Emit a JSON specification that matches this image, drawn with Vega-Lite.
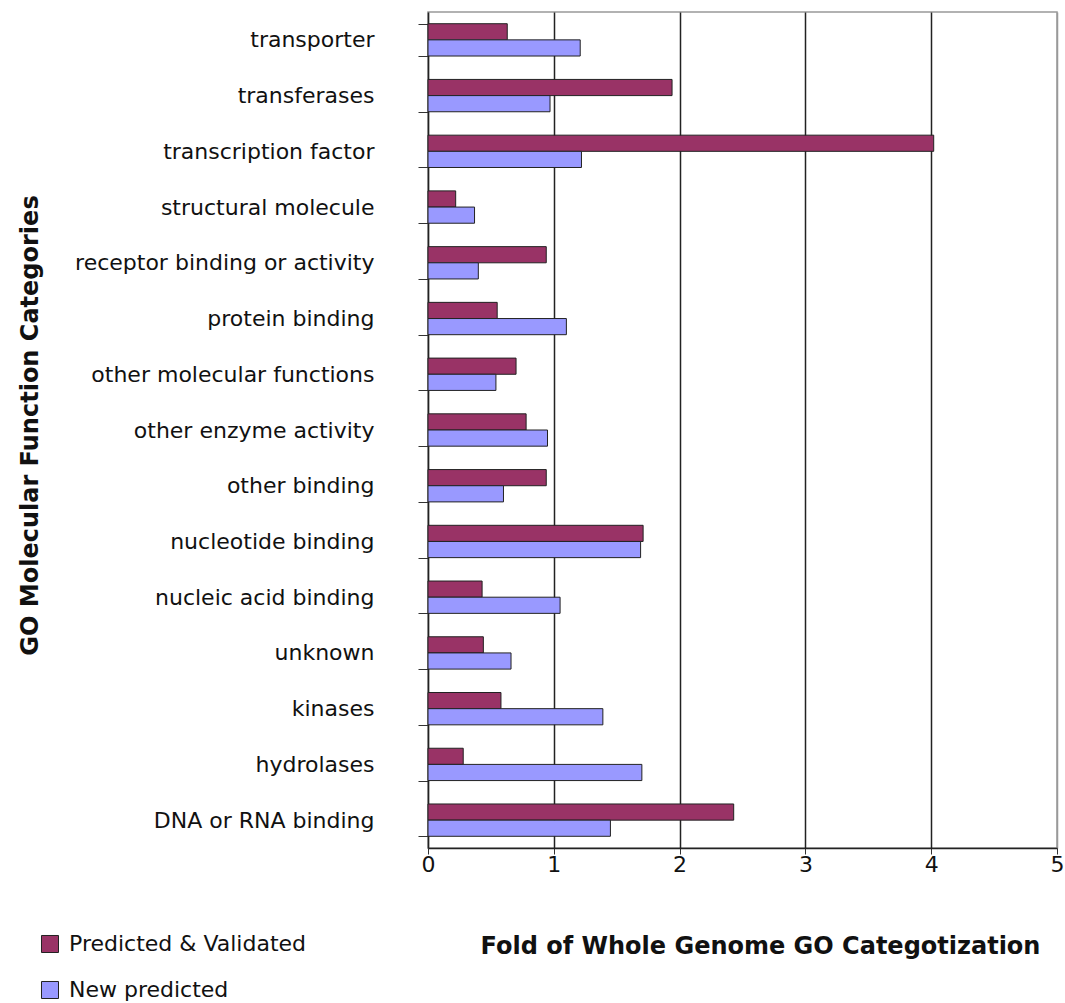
{
  "$schema": "https://vega.github.io/schema/vega-lite/v6.json",
  "autosize": "none",
  "width": 629,
  "height": 836,
  "padding": {"left": 428, "top": 12, "right": 8, "bottom": 155},
  "background": "white",
  "config": {
    "font": "DejaVu Sans",
    "view": {"stroke": "#999", "strokeWidth": 1.5}
  },
  "data": {
    "values": [
      {"category": "transporter", "series": "Predicted & Validated", "value": 0.63},
      {"category": "transporter", "series": "New predicted", "value": 1.21},
      {"category": "transferases", "series": "Predicted & Validated", "value": 1.94},
      {"category": "transferases", "series": "New predicted", "value": 0.97},
      {"category": "transcription factor", "series": "Predicted & Validated", "value": 4.02},
      {"category": "transcription factor", "series": "New predicted", "value": 1.22},
      {"category": "structural molecule", "series": "Predicted & Validated", "value": 0.22},
      {"category": "structural molecule", "series": "New predicted", "value": 0.37},
      {"category": "receptor binding or activity", "series": "Predicted & Validated", "value": 0.94},
      {"category": "receptor binding or activity", "series": "New predicted", "value": 0.40},
      {"category": "protein binding", "series": "Predicted & Validated", "value": 0.55},
      {"category": "protein binding", "series": "New predicted", "value": 1.10},
      {"category": "other molecular functions", "series": "Predicted & Validated", "value": 0.70},
      {"category": "other molecular functions", "series": "New predicted", "value": 0.54},
      {"category": "other enzyme activity", "series": "Predicted & Validated", "value": 0.78},
      {"category": "other enzyme activity", "series": "New predicted", "value": 0.95},
      {"category": "other binding", "series": "Predicted & Validated", "value": 0.94},
      {"category": "other binding", "series": "New predicted", "value": 0.60},
      {"category": "nucleotide binding", "series": "Predicted & Validated", "value": 1.71},
      {"category": "nucleotide binding", "series": "New predicted", "value": 1.69},
      {"category": "nucleic acid binding", "series": "Predicted & Validated", "value": 0.43},
      {"category": "nucleic acid binding", "series": "New predicted", "value": 1.05},
      {"category": "unknown", "series": "Predicted & Validated", "value": 0.44},
      {"category": "unknown", "series": "New predicted", "value": 0.66},
      {"category": "kinases", "series": "Predicted & Validated", "value": 0.58},
      {"category": "kinases", "series": "New predicted", "value": 1.39},
      {"category": "hydrolases", "series": "Predicted & Validated", "value": 0.28},
      {"category": "hydrolases", "series": "New predicted", "value": 1.70},
      {"category": "DNA or RNA binding", "series": "Predicted & Validated", "value": 2.43},
      {"category": "DNA or RNA binding", "series": "New predicted", "value": 1.45}
    ]
  },
  "mark": {"type": "bar", "stroke": "#222", "strokeWidth": 1},
  "encoding": {
    "y": {
      "field": "category",
      "type": "nominal",
      "sort": ["transporter", "transferases", "transcription factor", "structural molecule", "receptor binding or activity", "protein binding", "other molecular functions", "other enzyme activity", "other binding", "nucleotide binding", "nucleic acid binding", "unknown", "kinases", "hydrolases", "DNA or RNA binding"],
      "scale": {"paddingInner": 0.42, "paddingOuter": 0.21},
      "axis": {
        "title": "GO Molecular Function Categories",
        "titleFontSize": 24,
        "titleFontWeight": "bold",
        "titleColor": "#111",
        "titleX": -398,
        "titleY": 413,
        "titleAngle": -90,
        "titleBaseline": "middle",
        "titleAlign": "center",
        "labelFontSize": 22,
        "labelColor": "#111",
        "labelPadding": 44,
        "labelLimit": 420,
        "tickBand": "extent",
        "tickSize": 10,
        "tickColor": "#333",
        "domainColor": "#222",
        "domainWidth": 1.5,
        "grid": false
      }
    },
    "yOffset": {
      "field": "series",
      "type": "nominal",
      "sort": ["Predicted & Validated", "New predicted"]
    },
    "x": {
      "field": "value",
      "type": "quantitative",
      "scale": {"domain": [0, 5], "nice": false},
      "axis": {
        "title": "Fold of Whole Genome GO Categotization",
        "titleFontSize": 24,
        "titleFontWeight": "bold",
        "titleColor": "#111",
        "titleX": 332,
        "titleY": 98,
        "titleBaseline": "middle",
        "titleAlign": "center",
        "values": [0, 1, 2, 3, 4, 5],
        "labelFontSize": 22,
        "labelColor": "#111",
        "labelPadding": 0,
        "labelFlush": false,
        "tickSize": 6,
        "tickColor": "#333",
        "domainColor": "#222",
        "domainWidth": 1.5,
        "grid": true,
        "gridColor": {"condition": {"test": "datum.value === 5 || datum.value === 0", "value": "#999"}, "value": "#222"},
        "gridWidth": 1.5
      }
    },
    "color": {
      "field": "series",
      "type": "nominal",
      "sort": ["Predicted & Validated", "New predicted"],
      "scale": {"domain": ["Predicted & Validated", "New predicted"], "range": ["#993366", "#9999FF"]},
      "legend": {
        "title": null,
        "orient": "none",
        "legendX": -389,
        "legendY": 921,
        "symbolType": "square",
        "symbolSize": 290,
        "symbolStrokeColor": "#222",
        "symbolStrokeWidth": 1,
        "labelFontSize": 22,
        "labelLimit": 400,
        "labelColor": "#111",
        "rowPadding": 24,
        "labelOffset": 8
      }
    }
  }
}
